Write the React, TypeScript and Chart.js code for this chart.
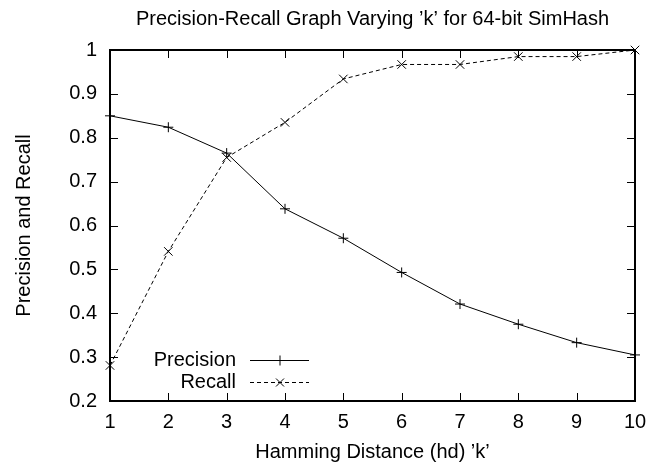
import { useEffect, useRef } from "react";
import { Chart, registerables } from "chart.js";

Chart.register(...registerables);

const chartTitle = "Precision-Recall Graph Varying \u2019k\u2019 for 64-bit SimHash";
const xAxisTitle = "Hamming Distance (hd) \u2019k\u2019";
const yAxisTitle = "Precision and Recall";

const hammingDistances = [1, 2, 3, 4, 5, 6, 7, 8, 9, 10];
const precisionValues = [0.85, 0.824, 0.765, 0.638, 0.571, 0.493, 0.421, 0.375, 0.333, 0.305];
const recallValues = [0.281, 0.541, 0.755, 0.835, 0.934, 0.967, 0.967, 0.985, 0.985, 1.0];

const xTickValues = [1, 2, 3, 4, 5, 6, 7, 8, 9, 10];
const xTickLabels = ["1", "2", "3", "4", "5", "6", "7", "8", "9", "10"];
const yTickValues = [0.2, 0.3, 0.4, 0.5, 0.6, 0.7, 0.8, 0.9, 1.0];
const yTickLabels = ["0.2", "0.3", "0.4", "0.5", "0.6", "0.7", "0.8", "0.9", "1"];

const seriesNames = ["Precision", "Recall"];

const FONT = "'Liberation Sans', Arial, Helvetica, sans-serif";

const frameAndLegend = {
  id: "frameAndLegend",
  beforeDatasetsDraw(chart: any) {
    const { ctx, chartArea } = chart;
    const { left, right, top, bottom } = chartArea;
    const xs = chart.scales.x;
    const ys = chart.scales.y;
    const tick = 8;
    ctx.save();
    ctx.strokeStyle = "#000";
    ctx.lineWidth = 1;
    ctx.beginPath();
    for (const v of xTickValues) {
      const px = Math.round(xs.getPixelForValue(v)) + 0.5;
      ctx.moveTo(px, bottom);
      ctx.lineTo(px, bottom - tick);
      ctx.moveTo(px, top);
      ctx.lineTo(px, top + tick);
    }
    for (const v of yTickValues) {
      const py = Math.round(ys.getPixelForValue(v)) + 0.5;
      ctx.moveTo(left, py);
      ctx.lineTo(left + tick, py);
      ctx.moveTo(right, py);
      ctx.lineTo(right - tick, py);
    }
    ctx.stroke();
    ctx.lineWidth = 2;
    ctx.strokeRect(left, top, right - left, bottom - top);
    ctx.restore();
  },
  afterDatasetsDraw(chart: any) {
    const { ctx } = chart;
    const datasets = chart.data.datasets;
    const textRight = 236;
    const lineStart = 250;
    const lineEnd = 309;
    const rows = [360, 382];
    ctx.save();
    ctx.font = `20px ${FONT}`;
    ctx.fillStyle = "#000";
    ctx.textAlign = "right";
    ctx.textBaseline = "middle";
    datasets.forEach((ds: any, i: number) => {
      const y = rows[i] + 0.5;
      ctx.fillText(ds.label, textRight, rows[i]);
      ctx.strokeStyle = "#000";
      ctx.lineWidth = 1;
      ctx.setLineDash(ds.borderDash || []);
      ctx.beginPath();
      ctx.moveTo(lineStart, y);
      ctx.lineTo(lineEnd, y);
      ctx.stroke();
      ctx.setLineDash([]);
      const cx = (lineStart + lineEnd) / 2 + 0.5;
      ctx.beginPath();
      if (ds.pointStyle === "cross") {
        ctx.moveTo(cx - 5, y);
        ctx.lineTo(cx + 5, y);
        ctx.moveTo(cx, y - 5);
        ctx.lineTo(cx, y + 5);
      } else {
        ctx.moveTo(cx - 4, y - 4);
        ctx.lineTo(cx + 4, y + 4);
        ctx.moveTo(cx + 4, y - 4);
        ctx.lineTo(cx - 4, y + 4);
      }
      ctx.stroke();
    });
    ctx.restore();
  },
};

export default function App() {
  const canvasRef = useRef<HTMLCanvasElement | null>(null);

  useEffect(() => {
    if (!canvasRef.current) return;
    const chart = new Chart(canvasRef.current, {
      type: "line",
      data: {
        labels: hammingDistances,
        datasets: [
          {
            label: seriesNames[0],
            data: hammingDistances.map((x, i) => ({ x, y: precisionValues[i] })),
            borderColor: "#000",
            backgroundColor: "#000",
            borderWidth: 1,
            pointStyle: "cross",
            pointRadius: 5,
            pointBorderWidth: 1,
            pointBorderColor: "#000",
            tension: 0,
            fill: false,
            clip: false as any,
          },
          {
            label: seriesNames[1],
            data: hammingDistances.map((x, i) => ({ x, y: recallValues[i] })),
            borderColor: "#000",
            backgroundColor: "#000",
            borderWidth: 1,
            borderDash: [4, 3],
            pointStyle: "crossRot",
            pointRadius: 6,
            pointBorderWidth: 1,
            pointBorderColor: "#000",
            tension: 0,
            fill: false,
            clip: false as any,
          },
        ],
      },
      options: {
        animation: false,
        responsive: false,
        maintainAspectRatio: false,
        devicePixelRatio: 1,
        layout: { padding: { left: 0, right: 24, top: 0, bottom: 0 } },
        plugins: {
          legend: { display: false },
          tooltip: { enabled: false },
          title: {
            display: true,
            fullSize: false,
            text: chartTitle,
            color: "#000",
            font: { family: FONT, size: 20, weight: "normal" },
            padding: { top: 7, bottom: 19 },
          },
        },
        scales: {
          x: {
            type: "linear",
            min: 1,
            max: 10,
            afterBuildTicks: (scale: any) => {
              scale.ticks = xTickValues.map((v) => ({ value: v }));
            },
            afterFit: (scale: any) => {
              scale.height = 63;
            },
            ticks: {
              color: "#000",
              font: { family: FONT, size: 20 },
              padding: 9,
              maxRotation: 0,
              autoSkip: false,
              callback: (v: any) => xTickLabels[xTickValues.indexOf(Number(v))] ?? "",
            },
            grid: { display: false, drawTicks: false },
            border: { display: false },
            title: {
              display: true,
              text: xAxisTitle,
              color: "#000",
              font: { family: FONT, size: 20 },
              padding: { top: 0, bottom: 0 },
            },
          },
          y: {
            type: "linear",
            min: 0.2,
            max: 1,
            afterBuildTicks: (scale: any) => {
              scale.ticks = yTickValues.map((v) => ({ value: v }));
            },
            afterFit: (scale: any) => {
              scale.width = 110;
            },
            ticks: {
              color: "#000",
              font: { family: FONT, size: 20 },
              padding: 13,
              autoSkip: false,
              callback: (v: any) => {
                const idx = yTickValues.findIndex((t) => Math.abs(t - Number(v)) < 1e-9);
                return idx >= 0 ? yTickLabels[idx] : "";
              },
            },
            grid: { display: false, drawTicks: false },
            border: { display: false },
            title: {
              display: true,
              text: yAxisTitle,
              color: "#000",
              font: { family: FONT, size: 20 },
              padding: { top: 12, bottom: 0 },
            },
          },
        },
      },
      plugins: [frameAndLegend],
    });
    return () => chart.destroy();
  }, []);

  return (
    <div style={{ position: "fixed", left: 0, top: 0, width: 659, height: 464, background: "#fff" }}>
      <canvas ref={canvasRef} width={659} height={464} style={{ width: 659, height: 464, display: "block" }} />
    </div>
  );
}
